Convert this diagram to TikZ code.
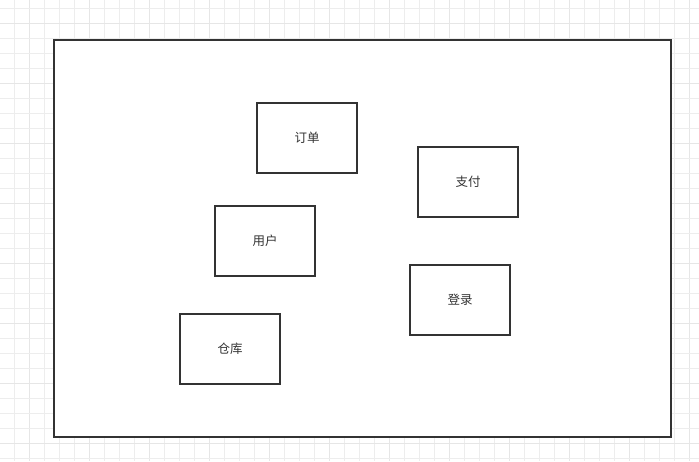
\documentclass[tikz,border=0pt]{standalone}
\usepackage{fontspec}
\newfontfamily\cjk{Noto Sans CJK SC}
\usetikzlibrary{positioning}
\definecolor{gridgray}{HTML}{EDEDED}
\definecolor{majorgray}{HTML}{E6E6E6}
\definecolor{linegray}{HTML}{333333}
\tikzset{
    gridline/.style={draw=gridgray, line width=0.75pt},
    gridmajor/.style={draw=majorgray, line width=1.3pt},
    frame/.style={draw=linegray, line width=1.5pt, minimum width=617pt, minimum height=397pt},
    service/.style={
        draw=linegray, line width=1.4pt,
        minimum width=100pt, minimum height=70pt,
        font=\cjk\fontsize{12.5pt}{14pt}\selectfont, text=linegray,
        align=center
    }
}
\begin{document}
\begin{tikzpicture}[x=1pt, y=-1pt]
\useasboundingbox (0,0) rectangle (699,461);
\fill[white] (0,0) rectangle (699,461);

% ============ Grid ============
\foreach \i in {0,...,46} {
    \pgfmathsetmacro{\gx}{14.3+15*\i}
    \ifnum\numexpr\i-4*(\i/4)\relax=1
        \draw[gridmajor] (\gx,0) -- (\gx,461);
    \else
        \draw[gridline] (\gx,0) -- (\gx,461);
    \fi
}
\foreach \j in {0,...,30} {
    \pgfmathsetmacro{\gy}{8.3+15*\j}
    \ifnum\numexpr\j-4*(\j/4)\relax=1
        \draw[gridmajor] (0,\gy) -- (699,\gy);
    \else
        \draw[gridline] (0,\gy) -- (699,\gy);
    \fi
}

% ============ Frame ============
\node[frame, fill=white] (frame) at (362.5,238.5) {};

% ============ Services ============
\node[service] (order) at (307,138) {订单};
\node[service] (pay)   at (468,182) {支付};
\node[service] (user)  at (265,241) {用户};
\node[service] (login) at (460,300) {登录};
\node[service] (store) at (230,349) {仓库};

\end{tikzpicture}
\end{document}
